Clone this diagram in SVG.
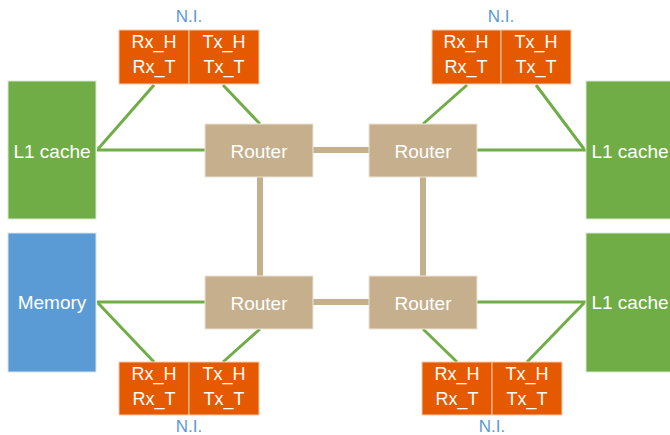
<svg xmlns="http://www.w3.org/2000/svg" width="670" height="435" viewBox="0 0 670 435">
<style>
text{font-family:"Liberation Sans",Arial,sans-serif;fill:#fff;text-anchor:middle}
.cache{fill:#70AD47;stroke:#d9ead0;stroke-width:1}
.mem{fill:#5B9BD5;stroke:#d5e4f3;stroke-width:1}
.router{fill:#C5AF8D;stroke:#ece4d6;stroke-width:1}
.ni{fill:#E55A00;stroke:#f6c9a8;stroke-width:1}
.lbl{font-size:19px}
.cell{font-size:18px}
.nil{font-size:17px;fill:#5B9BD5}
.g{stroke:#70AD47;stroke-width:3;fill:none}
.t{stroke:#C5AF8D;stroke-width:6;fill:none}
</style>
<g id="connectors">
<line class="t" x1="313" y1="150" x2="369" y2="150"/>
<line class="t" x1="313" y1="302" x2="369" y2="302"/>
<line class="t" x1="260" y1="177" x2="260" y2="276"/>
<line class="t" x1="423" y1="177" x2="423" y2="276"/>
<line class="g" x1="97" y1="150" x2="205" y2="150"/>
<line class="g" x1="98" y1="149" x2="154" y2="85"/>
<line class="g" x1="223" y1="85" x2="260" y2="124"/>
<line class="g" x1="467" y1="85" x2="423" y2="124"/>
<line class="g" x1="536" y1="85" x2="584" y2="149"/>
<line class="g" x1="477" y1="150" x2="586" y2="150"/>
<line class="g" x1="97" y1="302" x2="205" y2="302"/>
<line class="g" x1="98" y1="303" x2="154" y2="362"/>
<line class="g" x1="260" y1="329" x2="223" y2="362"/>
<line class="g" x1="423" y1="329" x2="457" y2="362"/>
<line class="g" x1="584" y1="303" x2="527" y2="362"/>
<line class="g" x1="477" y1="302" x2="586" y2="302"/>
</g>
<g id="cache-tl"><rect class="cache" x="8" y="81" width="88" height="138"/><text class="lbl" x="52" y="158">L1 cache</text></g>
<g id="memory"><rect class="mem" x="8" y="233" width="88" height="139"/><text class="lbl" x="52" y="309">Memory</text></g>
<g id="cache-tr"><rect class="cache" x="586" y="81" width="88" height="138"/><text class="lbl" x="630" y="158">L1 cache</text></g>
<g id="cache-br"><rect class="cache" x="586" y="233" width="88" height="139"/><text class="lbl" x="630" y="309">L1 cache</text></g>
<g id="router-tl"><rect class="router" x="205" y="124" width="108" height="53"/><text class="lbl" x="259" y="158">Router</text></g>
<g id="router-tr"><rect class="router" x="369" y="124" width="108" height="53"/><text class="lbl" x="423" y="158">Router</text></g>
<g id="router-bl"><rect class="router" x="205" y="276" width="108" height="53"/><text class="lbl" x="259" y="310">Router</text></g>
<g id="router-br"><rect class="router" x="369" y="276" width="108" height="53"/><text class="lbl" x="423" y="310">Router</text></g>
<g id="ni-tl">
<text class="nil" x="189" y="22">N.I.</text>
<rect class="ni" x="119" y="30" width="70" height="54"/><rect class="ni" x="189" y="30" width="70" height="54"/>
<text class="cell" x="154" y="48">Rx_H</text><text class="cell" x="154" y="73">Rx_T</text>
<text class="cell" x="224" y="48">Tx_H</text><text class="cell" x="224" y="73">Tx_T</text>
</g>
<g id="ni-tr">
<text class="nil" x="501" y="22">N.I.</text>
<rect class="ni" x="432" y="30" width="69" height="54"/><rect class="ni" x="501" y="30" width="70" height="54"/>
<text class="cell" x="466" y="48">Rx_H</text><text class="cell" x="466" y="73">Rx_T</text>
<text class="cell" x="536" y="48">Tx_H</text><text class="cell" x="536" y="73">Tx_T</text>
</g>
<g id="ni-bl">
<rect class="ni" x="119" y="362" width="70" height="53"/><rect class="ni" x="189" y="362" width="70" height="53"/>
<text class="cell" x="154" y="380">Rx_H</text><text class="cell" x="154" y="405">Rx_T</text>
<text class="cell" x="224" y="380">Tx_H</text><text class="cell" x="224" y="405">Tx_T</text>
<text class="nil" x="189" y="432">N.I.</text>
</g>
<g id="ni-br">
<rect class="ni" x="422" y="362" width="70" height="53"/><rect class="ni" x="492" y="362" width="70" height="53"/>
<text class="cell" x="457" y="380">Rx_H</text><text class="cell" x="457" y="405">Rx_T</text>
<text class="cell" x="527" y="380">Tx_H</text><text class="cell" x="527" y="405">Tx_T</text>
<text class="nil" x="492" y="432">N.I.</text>
</g>
</svg>
